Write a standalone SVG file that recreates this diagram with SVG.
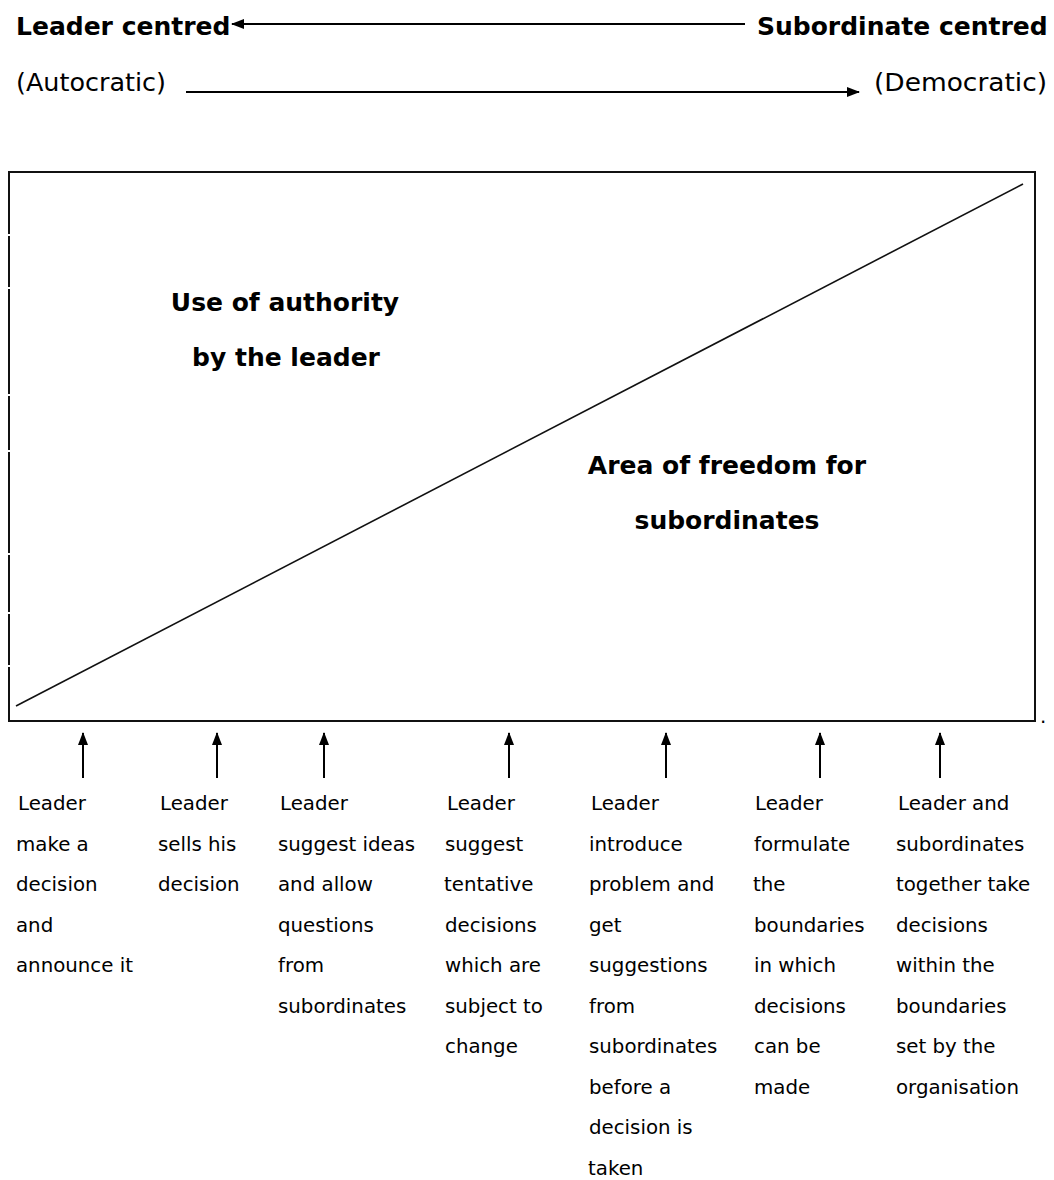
<svg xmlns="http://www.w3.org/2000/svg" width="1054" height="1180" viewBox="0 0 1054 1180">
<style>
.hb{font-family:"DejaVu Sans","Liberation Sans",sans-serif;font-weight:bold;font-size:25px;fill:#000}
.hr{font-family:"DejaVu Sans","Liberation Sans",sans-serif;font-size:25px;fill:#000}
.lb{font-family:"DejaVu Sans","Liberation Sans",sans-serif;font-size:19.8px;fill:#000}
.ln{stroke:#000;stroke-width:2;fill:none}
</style>
<defs>
<marker id="ah" viewBox="0 0 13 10" refX="12" refY="5" markerWidth="13" markerHeight="10" markerUnits="userSpaceOnUse" orient="auto">
<path d="M0,0 L13,5 L0,10 z" fill="#000"/>
</marker>
</defs>
<rect width="1054" height="1180" fill="#fff"/>
<g id="header-leader"><text class="hb" x="16" y="35">Leader centred</text></g>
<g id="header-subordinate"><text class="hb" x="757" y="35">Subordinate centred</text></g>
<g id="header-autocratic"><text class="hr" x="16" y="91" textLength="150" lengthAdjust="spacingAndGlyphs">(Autocratic)</text></g>
<g id="header-democratic"><text class="hr" x="874" y="91" textLength="173" lengthAdjust="spacingAndGlyphs">(Democratic)</text></g>
<g id="chart">
<rect x="9" y="172" width="1026" height="549" fill="none" stroke="#111" stroke-width="2"/>
<g stroke="#fff" stroke-width="3">
<line x1="9" y1="234" x2="9" y2="236"/>
<line x1="9" y1="287" x2="9" y2="289"/>
<line x1="9" y1="394" x2="9" y2="396"/>
<line x1="9" y1="450" x2="9" y2="452"/>
<line x1="9" y1="553" x2="9" y2="555"/>
<line x1="9" y1="612" x2="9" y2="614"/>
<line x1="9" y1="665" x2="9" y2="667"/>
</g>
<line x1="16" y1="706" x2="1023" y2="184" stroke="#111" stroke-width="1.6"/>
<text class="lb" x="1040" y="723">.</text>
</g>
<g id="label-authority">
<text class="hb" x="285" y="311" text-anchor="middle">Use of authority</text>
<text class="hb" x="286" y="366" text-anchor="middle">by the leader</text>
</g>
<g id="label-freedom">
<text class="hb" x="727" y="474" text-anchor="middle">Area of freedom for</text>
<text class="hb" x="727" y="529" text-anchor="middle">subordinates</text>
</g>
<g id="connectors">
<line class="ln" x1="745" y1="24" x2="232" y2="24" marker-end="url(#ah)"/>
<line class="ln" x1="186" y1="92" x2="859" y2="92" marker-end="url(#ah)"/>
<line class="ln" x1="83" y1="778" x2="83" y2="733" marker-end="url(#ah)"/>
<line class="ln" x1="217" y1="778" x2="217" y2="733" marker-end="url(#ah)"/>
<line class="ln" x1="324" y1="778" x2="324" y2="733" marker-end="url(#ah)"/>
<line class="ln" x1="509" y1="778" x2="509" y2="733" marker-end="url(#ah)"/>
<line class="ln" x1="666" y1="778" x2="666" y2="733" marker-end="url(#ah)"/>
<line class="ln" x1="820" y1="778" x2="820" y2="733" marker-end="url(#ah)"/>
<line class="ln" x1="940" y1="778" x2="940" y2="733" marker-end="url(#ah)"/>
</g>
<g id="step1" class="lb">
<text x="18" y="810">Leader</text>
<text x="16" y="850.5">make a</text>
<text x="16" y="891">decision</text>
<text x="16" y="931.5">and</text>
<text x="16" y="972">announce it</text>
</g>
<g id="step2" class="lb">
<text x="160" y="810">Leader</text>
<text x="158" y="850.5">sells his</text>
<text x="158" y="891">decision</text>
</g>
<g id="step3" class="lb">
<text x="280" y="810">Leader</text>
<text x="278" y="850.5">suggest ideas</text>
<text x="278" y="891">and allow</text>
<text x="278" y="931.5">questions</text>
<text x="278" y="972">from</text>
<text x="278" y="1012.5">subordinates</text>
</g>
<g id="step4" class="lb">
<text x="447" y="810">Leader</text>
<text x="445" y="850.5">suggest</text>
<text x="444" y="891">tentative</text>
<text x="445" y="931.5">decisions</text>
<text x="445" y="972">which are</text>
<text x="445" y="1012.5">subject to</text>
<text x="445" y="1053">change</text>
</g>
<g id="step5" class="lb">
<text x="591" y="810">Leader</text>
<text x="589" y="850.5">introduce</text>
<text x="589" y="891">problem and</text>
<text x="589" y="931.5">get</text>
<text x="589" y="972">suggestions</text>
<text x="589" y="1012.5">from</text>
<text x="589" y="1053">subordinates</text>
<text x="589" y="1093.5">before a</text>
<text x="589" y="1134">decision is</text>
<text x="588" y="1174.5">taken</text>
</g>
<g id="step6" class="lb">
<text x="755" y="810">Leader</text>
<text x="754" y="850.5">formulate</text>
<text x="753" y="891">the</text>
<text x="754" y="931.5">boundaries</text>
<text x="754" y="972">in which</text>
<text x="754" y="1012.5">decisions</text>
<text x="754" y="1053">can be</text>
<text x="754" y="1093.5">made</text>
</g>
<g id="step7" class="lb">
<text x="898" y="810">Leader and</text>
<text x="896" y="850.5">subordinates</text>
<text x="896" y="891">together take</text>
<text x="896" y="931.5">decisions</text>
<text x="896" y="972">within the</text>
<text x="896" y="1012.5">boundaries</text>
<text x="896" y="1053">set by the</text>
<text x="896" y="1093.5">organisation</text>
</g>
</svg>
